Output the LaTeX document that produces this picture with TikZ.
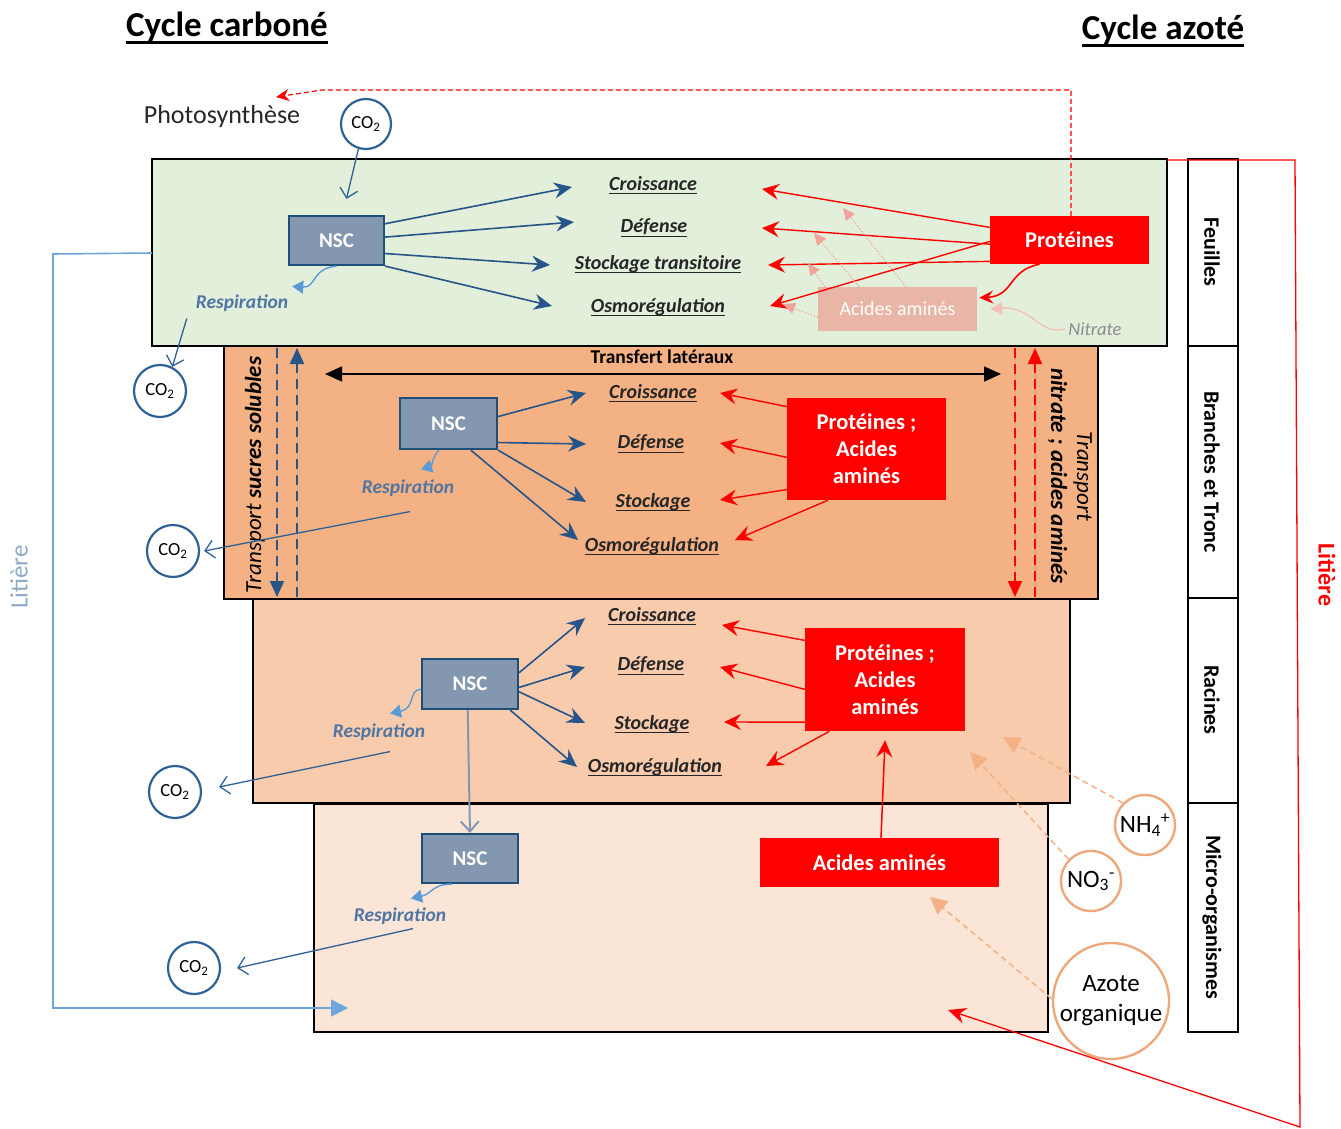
\documentclass[tikz,border=0pt]{standalone}
\usepackage{fontspec}
\setmainfont{Carlito}
\usetikzlibrary{arrows.meta}
\definecolor{dblue}{HTML}{26558A}
\definecolor{nscf}{HTML}{8497B0}
\definecolor{nscb}{HTML}{1F4E79}
\definecolor{lblue}{HTML}{5B9BD5}
\definecolor{respc}{HTML}{4F76A3}
\definecolor{co2c}{HTML}{2E6296}
\definecolor{grn}{HTML}{E2EFDA}
\definecolor{orA}{HTML}{F4B183}
\definecolor{orB}{HTML}{F8CBAD}
\definecolor{orC}{HTML}{FBE5D6}
\definecolor{fadebox}{HTML}{E8B5A6}
\definecolor{fadearr}{HTML}{F0A39B}
\definecolor{litb}{HTML}{6FA6DA}
\definecolor{littxt}{HTML}{8EA9C8}
\definecolor{orcirc}{HTML}{EDA97C}
\definecolor{nitc}{HTML}{8C8C8C}
\newcommand{\fsz}[2]{\fontsize{#1}{#2}\selectfont}
\newcommand{\myul}[2][1.4pt]{\setbox0=\hbox{#2}\leavevmode\rlap{\rule[-0.2em]{\wd0}{#1}}\box0}
\begin{document}
\begin{tikzpicture}[x=1pt,y=-1pt,
 band/.style={draw=black,line width=2.6pt},
 nsc/.style={draw=nscb,fill=nscf,line width=2.2pt,text=white,font=\fsz{21}{24}\bfseries,minimum width=95pt,minimum height=49pt,inner sep=0pt},
 lab/.style={font=\fsz{20}{23}\bfseries\itshape,inner sep=0pt,text=black!85},
 pbox/.style={fill=red,text=white,font=\fsz{22.5}{27}\bfseries,inner sep=0pt,align=center},
 co2/.style={circle,draw=co2c,line width=2.2pt,minimum size=50pt,inner sep=0pt,font=\fsz{18.5}{20}},
 ocirc/.style={circle,draw=orcirc,line width=2.4pt,inner sep=0pt,font=\fsz{25}{30},align=center},
 resp/.style={font=\fsz{19.5}{22}\bfseries\itshape,text=respc,inner sep=1pt},
 coltxt/.style={rotate=-90,font=\fsz{22}{25}\bfseries},
 barrow/.style={draw=dblue,line width=1.6pt,-{Stealth[length=18pt,width=16pt,inset=6pt]}},
 rarrow/.style={draw=red,line width=1.4pt,-{Stealth[length=17pt,width=16pt,inset=6pt]}},
 farrow/.style={draw=fadearr,line width=1.2pt,dotted,-{Triangle[length=12pt,width=11pt]}},
 carrow/.style={draw=co2c,line width=1.3pt,-{Straight Barb[length=9pt,width=18pt]}},
 curl/.style={draw=lblue,line width=1.4pt,-{Triangle[length=11pt,width=13pt]}},
 tdash/.style={line width=2pt,dash pattern=on 10pt off 6pt,-{Triangle[length=16pt,width=14pt]}},
 odash/.style={draw=orA,line width=1.5pt,dash pattern=on 6pt off 4pt,-{Triangle[length=17pt,width=17pt]}}
]
\useasboundingbox (0,0) rectangle (1341,1129);

% bands
\draw[band,fill=grn] (152,159) rectangle (1167,346);
\draw[band,fill=orA] (224,346) rectangle (1098,599);
\draw[band,fill=orB] (253,599) rectangle (1070,803);
\draw[band,fill=orC] (314,804) rectangle (1048,1032);

% right column
\draw[band] (1188,159) rectangle (1238,1032);
\draw[band] (1188,346) -- (1238,346);
\draw[band] (1188,598) -- (1238,598);
\draw[band] (1188,803) -- (1238,803);
\node[coltxt] (cF) at (1212,252) {Feuilles};
\node[coltxt] (cB) at (1212,472) {Branches et Tronc};
\node[coltxt] (cR) at (1212,700) {Racines};
\node[coltxt] (cM) at (1212,917) {Micro-organismes};

% titles
\node[font=\fsz{35}{38}\bfseries] (t1) at (227,28) {\myul[2.8pt]{Cycle carboné}};
\node[font=\fsz{35}{38}\bfseries] (t2) at (1163,31) {\myul[2.8pt]{Cycle azoté}};

% side litiere labels
\node[rotate=90,text=littxt,font=\fsz{25}{28}] (lit1) at (19,577) {Litière};
\node[rotate=-90,text=red,font=\fsz{24}{28}\bfseries] (lit2) at (1327,575) {Litière};

% ---------- band 1 -------------
\node[font=\fsz{26}{29},text=black!85] (photo) at (222,117) {Photosynthèse};
\node[co2] (co2a) at (366,124) {CO\textsubscript{2}};
\node[nsc] (nsc1) at (336.5,240.5) {NSC};
\node[lab] (cr1) at (653,185) {\myul{Croissance}};
\node[lab] (de1) at (654,228) {\myul{Défense}};
\node[lab] (st1) at (658,264) {\myul{Stockage transitoire}};
\node[lab] (os1) at (658,307) {\myul{Osmorégulation}};
\node[resp] (resp1) at (242,303) {Respiration};
\node[co2,minimum size=52pt] (co2b) at (160,391) {CO\textsubscript{2}};
\node[pbox,minimum width=159pt,minimum height=48pt] (prot1) at (1069.5,240) {Protéines};
\node[fill=fadebox,text=white,font=\fsz{20}{23},inner sep=0pt,minimum width=159pt,minimum height=44pt] (aa1) at (897.5,309) {Acides aminés};
\node[font=\fsz{18.5}{21}\itshape,text=nitc] (nitr) at (1095,329) {Nitrate};

\coordinate (b1a) at (572,187);
\coordinate (b1b) at (574,222);
\coordinate (b1c) at (550,265);
\coordinate (b1d) at (552,306);
\draw[barrow] (nsc1.19) -- (b1a);
\draw[barrow] (nsc1.4) -- (b1b);
\draw[barrow] (nsc1.-15) -- (b1c);
\draw[barrow] (nsc1.south east) -- (b1d);

\coordinate (r1a) at (762,189);
\coordinate (r1b) at (762,228);
\coordinate (r1c) at (768,265);
\coordinate (r1d) at (770,306);
\draw[rarrow] (prot1.171) -- (r1a);
\draw[rarrow] (prot1.183) -- (r1b);
\draw[rarrow] (prot1.195) -- (r1c);
\draw[rarrow] (prot1.181) -- (r1d);

\coordinate (f1a) at (843,208);
\coordinate (f1b) at (814,233);
\coordinate (f1c) at (808,263);
\coordinate (f1d) at (783,304);
\draw[farrow] (aa1.69) -- (f1a);
\draw[farrow] (aa1.150) -- (f1b);
\draw[farrow] (aa1.163) -- (f1c);
\draw[farrow] (aa1.186) -- (f1d);

\draw[draw=red,line width=1.6pt,-{Stealth[length=14pt,width=13pt,inset=5pt]}] (prot1.219) .. controls (1008,270) and (1014,296) .. ([xshift=2pt]aa1.8);
\draw[draw=fadearr!70,line width=1.3pt,-{Triangle[length=12pt,width=12pt]}] (nitr.west) .. controls (1040,336) and (1032,306) .. ([xshift=13pt]aa1.east);

\coordinate (phtip) at (276,97);
\coordinate (rdc) at (322,90);
\draw[red,line width=1.2pt,dash pattern=on 5pt off 3pt,-{Stealth[length=13pt,width=12pt,inset=4pt]}] ([xshift=1.5pt]prot1.north) |- (rdc) -- (phtip);

\draw[carrow] (co2a.-107) -- ([shift={(10,-16)}]nsc1.north);
\draw[curl] (nsc1.south) .. controls (312,268) and (316,288) .. ([shift={(3,-7)}]resp1.north east);
\draw[carrow] ([shift={(-8,6)}]resp1.south west) -- (co2b.63);

% ---------- band 2 -------------
\node[font=\fsz{19.5}{22}\bfseries] (tl) at (662,357) {Transfert latéraux};
\coordinate (tla) at (325,374);
\coordinate (tlb) at (1001,374);
\draw[line width=1.3pt,{Triangle[length=17pt,width=15pt]}-{Triangle[length=17pt,width=15pt]}] (tla) -- (tlb);

\coordinate (tsa) at (277,348);
\coordinate (tsb) at (277,597);
\coordinate (tsc) at (297,597);
\coordinate (tsd) at (297,348);
\draw[tdash,draw=dblue,fill=dblue] (tsa) -- (tsb);
\draw[tdash,draw=dblue,fill=dblue] (tsc) -- (tsd);
\coordinate (tna) at (1015,348);
\coordinate (tnb) at (1015,597);
\coordinate (tnc) at (1035,597);
\coordinate (tnd) at (1035,348);
\draw[tdash,draw=red,fill=red] (tna) -- (tnb);
\draw[tdash,draw=red,fill=red] (tnc) -- (tnd);

\node[rotate=90,font=\fsz{23}{26}] (tss) at (255,475) {\textit{Transport} \textbf{\textit{sucres solubles}}};
\node[rotate=-90,font=\fsz{23}{26},align=center] (tna2) at (1070,476) {\textit{Transport}\\\textbf{\textit{nitrate ; acides aminés}}};

\node[nsc,minimum width=97pt,minimum height=51pt] (nsc2) at (448.5,423.5) {NSC};
\node[lab] (cr2) at (653,393) {\myul{Croissance}};
\node[lab] (de2) at (651,444) {\myul{Défense}};
\node[lab] (st2) at (653,502) {\myul{Stockage}};
\node[lab] (os2) at (652,546) {\myul{Osmorégulation}};
\node[resp] (resp2) at (408,488) {Respiration};
\node[co2,minimum size=52pt] (co2c) at (173,551) {CO\textsubscript{2}};
\node[pbox,minimum width=159pt,minimum height=102pt] (prot2) at (866.5,449) {Protéines ;\\Acides\\aminés};

\coordinate (b2a) at (586,393);
\coordinate (b2b) at (586,444);
\coordinate (b2c) at (586,502);
\coordinate (b2d) at (578,540);
\draw[barrow] (nsc2.8) -- (b2a);
\draw[barrow] (nsc2.-21) -- (b2b);
\draw[barrow] (nsc2.south east) -- (b2c);
\draw[barrow] (nsc2.-50) -- (b2d);

\coordinate (r2a) at (720,393);
\coordinate (r2b) at (720,443);
\coordinate (r2c) at (720,500);
\coordinate (r2d) at (735,540);
\draw[rarrow] (prot2.152) -- (r2a);
\draw[rarrow] (prot2.186) -- (r2b);
\draw[rarrow] (prot2.207) -- (r2c);
\draw[rarrow] (prot2.233) -- (r2d);

\draw[curl] (nsc2.-110) .. controls (432,458) and (432,466) .. ([shift={(13,-9)}]resp2.north);
\draw[carrow] ([shift={(2,14)}]resp2.south) -- ([xshift=4pt]co2c.east);

% ---------- band 3 -------------
\node[nsc,minimum width=96pt,minimum height=50pt] (nsc3) at (470,684) {NSC};
\node[lab] (cr3) at (652,616) {\myul{Croissance}};
\node[lab] (de3) at (651,666) {\myul{Défense}};
\node[lab] (st3) at (652,724) {\myul{Stockage}};
\node[lab] (os3) at (655,767) {\myul{Osmorégulation}};
\node[resp] (resp3) at (379,732) {Respiration};
\node[co2,minimum size=52pt] (co2d) at (175,792) {CO\textsubscript{2}};
\node[pbox,minimum width=160pt,minimum height=103pt] (prot3) at (885,679.5) {Protéines ;\\Acides\\aminés};

\coordinate (b3a) at (585,618);
\coordinate (b3b) at (585,667);
\coordinate (b3c) at (585,723);
\coordinate (b3d) at (577,767);
\draw[barrow] (nsc3.13) -- (b3a);
\draw[barrow] (nsc3.-4) -- (b3b);
\draw[barrow] (nsc3.-9) -- (b3c);
\draw[barrow] (nsc3.-33) -- (b3d);

\coordinate (r3a) at (722,625);
\coordinate (r3b) at (720,667);
\coordinate (r3c) at (724,722);
\coordinate (r3d) at (766,766);
\draw[rarrow] (prot3.154) -- (r3a);
\draw[rarrow] (prot3.187) -- (r3b);
\draw[rarrow] (prot3.208) -- (r3c);
\draw[rarrow] (prot3.223) -- (r3d);

\draw[curl] (nsc3.186) .. controls (408,690) and (416,708) .. ([shift={(11,-9)}]resp3.north);
\draw[carrow] ([shift={(11,10)}]resp3.south) -- ([shift={(17,-5)}]co2d.east);

% ---------- band 4 -------------
\node[nsc,minimum width=96pt,minimum height=49pt] (nsc4) at (470,858.5) {NSC};
\draw[draw=nscf,line width=2pt,-{Straight Barb[length=10pt,width=18pt]}] (nsc3.-95) -- (nsc4.north);
\node[resp] (resp4) at (400,916) {Respiration};
\node[co2,minimum size=52pt] (co2e) at (194,968) {CO\textsubscript{2}};
\draw[curl] (nsc4.-125) .. controls (432,884) and (432,894) .. ([shift={(11,-8)}]resp4.north);
\draw[carrow] ([shift={(13,3)}]resp4.south) -- ([xshift=16pt]co2e.east);

\node[pbox,font=\fsz{22.5}{26}\bfseries,minimum width=239pt,minimum height=49pt] (aa4) at (879.5,862.5) {Acides aminés};
\draw[draw=red,line width=1.5pt,-{Stealth[length=17pt,width=16pt,inset=6pt]}] ([xshift=1.5pt]aa4.north) -- ([yshift=-9pt]prot3.south);

\node[ocirc,minimum size=60pt] (nh4) at (1145,825) {NH\textsubscript{4}\textsuperscript{+}};
\node[ocirc,minimum size=60pt] (no3) at (1091,881) {NO\textsubscript{3}\textsuperscript{-}};
\node[ocirc,minimum size=116pt] (azo) at (1111,1001) {Azote\\organique};

\coordinate (o1) at (1003,737);
\coordinate (o2) at (970,752);
\coordinate (o3) at (930,897);
\draw[odash] (nh4.135) -- (o1);
\draw[odash] (no3.136) -- (o2);
\draw[odash] (azo.178) -- (o3);

% litiere connectors
\coordinate (lb1) at (152,253);
\coordinate (lb2) at (53,254);
\coordinate (lb3) at (53,1008);
\coordinate (lb4) at (348,1008);
\draw[draw=litb,line width=1.6pt,-{Triangle[length=17pt,width=17pt]}] (lb1) -- (lb2) -- (lb3) -- (lb4);

\coordinate (lr1) at (1167,160);
\coordinate (lr2) at (1295,160);
\coordinate (lr3) at (1300,1127);
\coordinate (lr4) at (948,1010);
\draw[draw=red,line width=1.3pt,-{Stealth[length=18pt,width=16pt,inset=6pt]}] (lr1) -- (lr2) -- (lr3) -- (lr4);
\end{tikzpicture}
\end{document}
